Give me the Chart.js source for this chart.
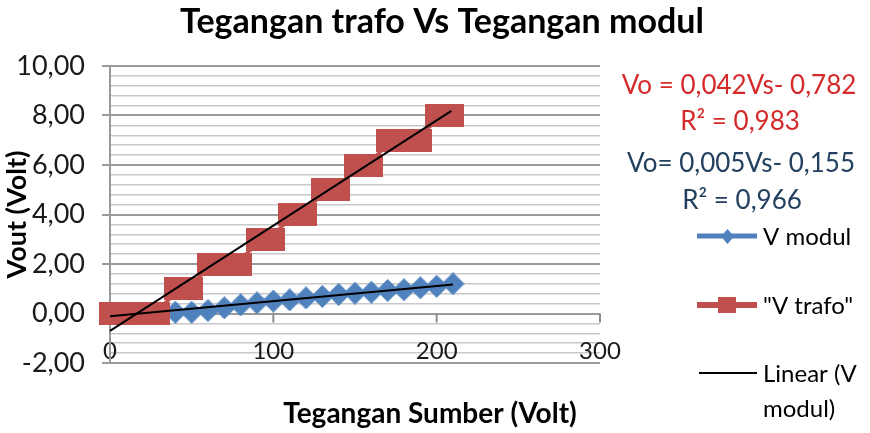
<!DOCTYPE html>
<html>
<head>
<meta charset="utf-8">
<script src="https://cdn.jsdelivr.net/npm/chart.js@4.4.0/dist/chart.umd.min.js"></script>
<style>
	html, body { margin: 0; padding: 0; background: #fff; }
	canvas { display: block; }
</style>
</head>
<body>
<canvas id="myChart" width="870" height="433"></canvas>
<script>
// values
const modulX = [0, 10, 20, 30, 40, 50, 60, 70, 80, 90, 100, 110, 120, 130, 140, 150, 160, 170, 180, 190, 200, 210]
const modulY = [0, 0, 0, 0, 0.05, 0.05, 0.12, 0.23, 0.35, 0.43, 0.5, 0.55, 0.63, 0.69, 0.77, 0.82, 0.86, 0.93, 0.96, 1.04, 1.1, 1.2]
const trafoX = [5, 15, 25, 45, 65, 75, 95, 115, 135, 155, 175, 185, 205]
const trafoY = [0, 0, 0, 1, 2, 2, 3, 4, 5, 6, 7, 7, 8]
// trendline ends as drawn
const trendModulX = [0, 210]
const trendModulY = [-0.11, 1.17]
const trendTrafoX = [0, 209]
const trendTrafoY = [-0.7, 8.19]
// labelled ticks
const yTicks = [-2, 0, 2, 4, 6, 8, 10]
const xTicks = [0, 100, 200, 300]

const chartTitle = 'Tegangan trafo Vs Tegangan modul'
const xTitle = 'Tegangan Sumber (Volt)'
const eqTrafo = ['Vo = 0,042Vs- 0,782', 'R² = 0,983']
const eqModul = ['Vo= 0,005Vs- 0,155', 'R² = 0,966']
const legendNames = ['V modul', '"V trafo"', 'Linear (V', 'modul)']

const font = 'Lato'
const blue = '#4f81bd'
const red = '#c0504d'

const toPoints = (xs, ys) => xs.map((x, i) => ({ x: x, y: ys[i] }))
const isMajor = (v) => yTicks.some((t) => Math.abs(t - v) < 1e-6)

// marker images
const makeMarker = (w, h, color, shape) => {
	const c = document.createElement('canvas')
	c.width = w
	c.height = h
	const g = c.getContext('2d')
	g.fillStyle = color
	if (shape === 'diamond') {
		g.beginPath()
		g.moveTo(w / 2, 0)
		g.lineTo(w, h / 2)
		g.lineTo(w / 2, h)
		g.lineTo(0, h / 2)
		g.closePath()
		g.fill()
	} else {
		g.fillRect(0, 0, w, h)
	}
	return c
}
const diamond = makeMarker(23, 23, blue, 'diamond')
const square = makeMarker(39, 23, red, 'rect')

// title, axis title, equations, legend, axis ticks at y = 0
const decor = {
	id: 'decor',
	beforeDatasetsDraw(chart) {
		const { ctx, scales } = chart
		const y0 = scales.y.getPixelForValue(0)
		ctx.save()
		ctx.strokeStyle = '#8c8c8c'
		ctx.lineWidth = 2
		xTicks.forEach((v) => {
			const px = scales.x.getPixelForValue(v)
			ctx.beginPath()
			ctx.moveTo(px, y0)
			ctx.lineTo(px, y0 + 9)
			ctx.stroke()
		})
		ctx.restore()
	},
	afterDraw(chart) {
		const ctx = chart.ctx
		ctx.save()
		ctx.textAlign = 'center'
		ctx.textBaseline = 'middle'
		ctx.fillStyle = '#000'
		ctx.font = `bold 34px ${font}`
		ctx.fillText(chartTitle, 442, 22)
		ctx.font = `bold 28px ${font}`
		ctx.fillText(xTitle, 430, 414)

		ctx.font = `26px ${font}`
		ctx.fillStyle = '#d42a2a'
		ctx.fillText(eqTrafo[0], 739, 86)
		ctx.fillText(eqTrafo[1], 740, 122)
		ctx.fillStyle = '#23405f'
		ctx.fillText(eqModul[0], 741, 164)
		ctx.fillText(eqModul[1], 742, 201)

		// legend
		ctx.lineWidth = 5
		ctx.strokeStyle = blue
		ctx.beginPath()
		ctx.moveTo(697, 236)
		ctx.lineTo(757, 236)
		ctx.stroke()
		ctx.drawImage(makeMarker(13, 15, blue, 'diamond'), 721, 229)

		ctx.lineWidth = 6
		ctx.strokeStyle = red
		ctx.beginPath()
		ctx.moveTo(697, 305)
		ctx.lineTo(757, 305)
		ctx.stroke()
		ctx.fillStyle = red
		ctx.fillRect(718, 297, 18, 16)

		ctx.lineWidth = 2
		ctx.strokeStyle = '#000'
		ctx.beginPath()
		ctx.moveTo(699, 373)
		ctx.lineTo(757, 373)
		ctx.stroke()

		ctx.font = `24px ${font}`
		ctx.fillStyle = '#000'
		ctx.textAlign = 'left'
		ctx.fillText(legendNames[0], 763, 237)
		ctx.fillText(legendNames[1], 763, 306)
		ctx.fillText(legendNames[2], 763, 374)
		ctx.fillText(legendNames[3], 763, 409)
		ctx.restore()
	},
}

const ctx = document.getElementById('myChart').getContext('2d')
const myChart = new Chart(ctx, {
	type: 'scatter',
	data: {
		datasets: [
			{
				label: 'V modul',
				data: toPoints(modulX, modulY),
				showLine: true,
				borderColor: blue,
				borderWidth: 3,
				pointStyle: diamond,
				pointRadius: 5,
				clip: false,
				order: 4,
			},
			{
				label: '"V trafo"',
				data: toPoints(trafoX, trafoY),
				showLine: true,
				borderColor: red,
				borderWidth: 3,
				pointStyle: square,
				pointRadius: 5,
				clip: false,
				order: 3,
			},
			{
				label: 'Linear (V modul)',
				data: toPoints(trendModulX, trendModulY),
				showLine: true,
				borderColor: '#000',
				borderWidth: 2,
				pointRadius: 0,
				clip: false,
				order: 1,
			},
			{
				label: 'Linear (V trafo)',
				data: toPoints(trendTrafoX, trendTrafoY),
				showLine: true,
				borderColor: '#000',
				borderWidth: 2,
				pointRadius: 0,
				clip: false,
				order: 2,
			},
		],
	},
	options: {
		responsive: false,
		animation: false,
		layout: {
			padding: { top: 66, right: 270, left: 0, bottom: 0 },
		},
		plugins: {
			legend: { display: false },
			title: { display: false },
			tooltip: { enabled: false },
		},
		scales: {
			x: {
				type: 'linear',
				min: 0,
				max: 300,
				ticks: {
					stepSize: 100,
					mirror: true,
					padding: -3,
					color: '#1a1a1a',
					font: { family: font, size: 24 },
				},
				grid: { display: false },
				border: { display: false },
				afterFit: (scale) => {
					scale.height = 70
				},
			},
			y: {
				min: -2,
				max: 10,
				ticks: {
					stepSize: 0.4,
					autoSkip: false,
					padding: 17,
					color: '#1a1a1a',
					font: { family: font, size: 27 },
					callback: (v) => (isMajor(v) ? v.toFixed(2).replace('.', ',') : ''),
				},
				grid: {
					color: (c) => (isMajor(c.tick.value) ? '#9a9a9a' : '#c8c8c8'),
					lineWidth: (c) => (isMajor(c.tick.value) ? 2 : 1.5),
					tickColor: (c) => (isMajor(c.tick.value) ? '#9a9a9a' : 'rgba(0,0,0,0)'),
					tickLength: 8,
				},
				border: { display: true, color: '#9a9a9a', width: 2 },
				title: {
					display: true,
					text: 'Vout (Volt)',
					color: '#000',
					font: { family: font, size: 27, weight: 'bold' },
					padding: { top: 1, bottom: 0 },
				},
				afterFit: (scale) => {
					scale.width = 110
				},
			},
		},
	},
	plugins: [decor],
})
</script>
</body>
</html>
